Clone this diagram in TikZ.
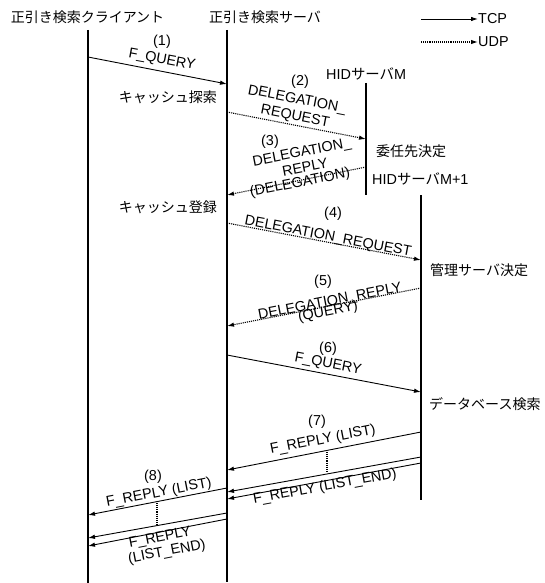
\documentclass[tikz,border=0pt]{standalone}
\usepackage{fontspec}
\setmainfont{Liberation Sans}
\newfontfamily\jpfont{Noto Sans CJK JP}
\usetikzlibrary{arrows.meta}
\begin{document}
\begin{tikzpicture}[x=1pt,y=-1pt,
  life/.style={line width=1.1pt},
  tcp/.style={line width=0.9pt,-{Latex[length=7pt,width=4.5pt]}},
  udp/.style={tcp,line width=1.1pt,dash pattern=on 1.1pt off 1pt},
  vdots/.style={line width=1.1pt,dash pattern=on 1.1pt off 1pt},
  lt/.style={font=\fontsize{14.4}{16}\selectfont,inner sep=0pt},
  jt/.style={font=\jpfont\fontsize{14}{16}\selectfont,inner sep=0pt}]
\useasboundingbox (0,0) rectangle (544,583);
% headers
\node[jt] (hc) at (87.5,17) {正引き検索クライアント};
\node[jt] (hs) at (265,17) {正引き検索サーバ};
% legend
\node[lt,anchor=west] (ltcp) at (478,19) {TCP};
\node[lt,anchor=west] (ludp) at (478,42) {UDP};
\coordinate (la) at (421,19);
\coordinate (lb) at (421,42);
\draw[tcp] (la) -- (ltcp.west);
\draw[udp] (lb) -- (ludp.west);
% lifelines
\coordinate (ct) at (88,30); \coordinate (cb) at (88,583);
\coordinate (st) at (227,30); \coordinate (sb) at (227,582);
\coordinate (mt) at (366,83); \coordinate (mb) at (366,195);
\coordinate (nt) at (421,195); \coordinate (nb) at (421,500);
\draw[life] (ct) -- (cb);
\draw[life] (st) -- (sb);
\draw[life] (mt) -- (mb);
\draw[life] (nt) -- (nb);
% side texts
\node[lt,anchor=west] (hidm) at (326,74) {HID{\jpfont サーバ}M};
\node[lt,anchor=west] (hidn) at (372,179) {HID{\jpfont サーバ}M+1};
\node[jt] (d1) at (411,151) {委任先決定};
\node[jt,anchor=west] (d2) at (430,270) {管理サーバ決定};
\node[jt,anchor=west] (d3) at (429,404) {データベース検索};
\node[jt,anchor=east] (cs) at (217,97) {キャッシュ探索};
\node[jt,anchor=east] (cr) at (217,207) {キャッシュ登録};
% (1)
\coordinate (a1) at (88,57); \coordinate (b1) at (227,84);
\draw[tcp] (a1) -- (b1);
\node[lt] (n1) at (162,42) {(1)};
\node[lt,rotate=-10.5] (m1) at (162,60) {F\_QUERY};
% (2)
\coordinate (a2) at (227,112); \coordinate (b2) at (366,139);
\draw[udp] (a2) -- (b2);
\node[lt] (n2) at (300,82) {(2)};
\node[lt,rotate=-11] (m2a) at (297,100) {DELEGATION\_};
\node[lt,rotate=-11] (m2b) at (295,117) {REQUEST};
% (3)
\coordinate (a3) at (366,167); \coordinate (b3) at (227,195);
\draw[udp] (a3) -- (b3);
\node[lt] (n3) at (270,142) {(3)};
\node[lt,rotate=11] (m3a) at (302,153) {DELEGATION\_};
\node[lt,rotate=11] (m3b) at (305,167) {REPLY};
\node[lt,rotate=11] (m3c) at (300,183) {(DELEGATION)};
% (4)
\coordinate (a4) at (227,223); \coordinate (b4) at (421,260);
\draw[udp] (a4) -- (b4);
\node[lt] (n4) at (333,214) {(4)};
\node[lt,rotate=-10.8] (m4) at (328,237) {DELEGATION\_REQUEST};
% (5)
\coordinate (a5) at (421,288); \coordinate (b5) at (227,326);
\draw[udp] (a5) -- (b5);
\node[lt] (n5) at (323,282) {(5)};
\node[lt,rotate=11] (m5a) at (330,302) {DELEGATION\_REPLY};
\node[lt,rotate=11] (m5b) at (328,312) {(QUERY)};
% (6)
\coordinate (a6) at (227,355); \coordinate (b6) at (421,392);
\draw[tcp] (a6) -- (b6);
\node[lt] (n6) at (328,349) {(6)};
\node[lt,rotate=-10.8] (m6) at (328,364) {F\_QUERY};
% (7)
\coordinate (a7) at (421,432); \coordinate (b7) at (227,470);
\coordinate (a7b) at (421,457); \coordinate (b7b) at (227,492);
\coordinate (a7c) at (421,463); \coordinate (b7c) at (227,499);
\draw[tcp] (a7) -- (b7);
\draw[tcp] (a7b) -- (b7b);
\draw[tcp] (a7c) -- (b7c);
\coordinate (v7a) at (327,452); \coordinate (v7b) at (327,472);
\draw[vdots] (v7a) -- (v7b);
\node[lt] (n7) at (317,422) {(7)};
\node[lt,rotate=11] (m7a) at (323,440) {F\_REPLY (LIST)};
\node[lt,rotate=10.5] (m7b) at (325,487) {F\_REPLY (LIST\_END)};
% (8)
\coordinate (a8) at (227,488); \coordinate (b8) at (88,515);
\coordinate (a8b) at (227,513); \coordinate (b8b) at (88,538);
\coordinate (a8c) at (227,519); \coordinate (b8c) at (88,546);
\draw[tcp] (a8) -- (b8);
\draw[tcp] (a8b) -- (b8b);
\draw[tcp] (a8c) -- (b8c);
\coordinate (v8a) at (157,503); \coordinate (v8b) at (157,525);
\draw[vdots] (v8a) -- (v8b);
\node[lt] (n8) at (153,477) {(8)};
\node[lt,rotate=11] (m8a) at (159,493) {F\_REPLY (LIST)};
\node[lt,rotate=11] (m8b) at (160,538) {F\_REPLY};
\node[lt,rotate=11] (m8c) at (167,552) {(LIST\_END)};
\end{tikzpicture}
\end{document}
